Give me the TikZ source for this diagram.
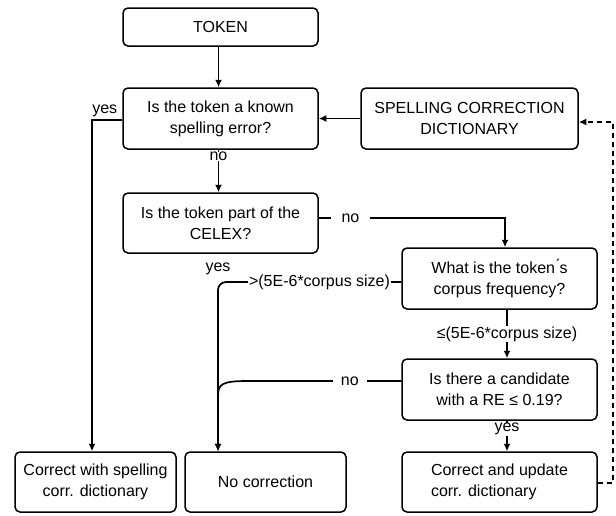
\documentclass[tikz,border=0pt]{standalone}
\usepackage{fontspec}
\setmainfont{Liberation Sans}
\usetikzlibrary{arrows.meta}
\begin{document}
\begin{tikzpicture}[x=1pt,y=-1pt,
  font=\fontsize{16}{21}\selectfont,
  box/.style={draw, rounded corners=5pt, line width=1.5pt, align=center, inner sep=0pt},
  lbl/.style={fill=white, inner xsep=3pt, inner ysep=0.5pt},
  arr/.style={-{Latex[length=7.5pt,width=7pt]}, line width=1.7pt},
  dsh/.style={dash pattern=on 5pt off 4pt}]
\useasboundingbox (0,0) rectangle (616,515);
\node[box, minimum width=195, minimum height=38] (token) at (220.5,27) {TOKEN};
\node[box, minimum width=195, minimum height=61] (q1) at (220.5,118.5) {Is the token a known\\spelling error?};
\node[box, minimum width=217, minimum height=61] (scd) at (469.5,118.5) {SPELLING CORRECTION\\DICTIONARY};
\node[box, minimum width=195, minimum height=60] (q2) at (220.5,223) {Is the token part of the\\CELEX?};
\node[box, minimum width=195, minimum height=61] (q3) at (499.5,278.5) {What is the token\'{}s\\corpus frequency?};
\node[box, minimum width=195, minimum height=61] (q4) at (499.5,389.5) {Is there a candidate\\with a RE ≤ 0.19?};
\node[box, minimum width=161, minimum height=60] (b1) at (95.5,482) {Correct with spelling\\corr. dictionary};
\node[box, minimum width=161, minimum height=60] (b2) at (265.5,482) {No correction};
\node[box, minimum width=195, minimum height=60, align=left] (b3) at (499.5,482) {Correct and update\\corr. dictionary};
\coordinate (dr) at (613,483);

\draw[arr] ([xshift=-2pt]token.south) -- ([xshift=-2pt]q1.north);
\draw[arr] (scd.west) -- (q1.east);
\draw[arr] ([xshift=-2pt]q1.south) -- node[lbl, pos=0.16] {no} ([xshift=-2pt]q2.north);
\draw[arr] ([yshift=-1.5pt]q1.west) -| node[pos=0.29, anchor=south, inner sep=2pt] {yes} ([xshift=-3.5pt]b1.north);
\draw[arr] ([yshift=5pt]q2.east) -| node[lbl, pos=0.085, inner xsep=11pt] {no} ([xshift=5.5pt]q3.north);
\node[lbl] (yq2) at ([xshift=-2.5pt,yshift=-15pt]q2.south) {yes};
\draw[arr, rounded corners=8pt] ([yshift=-3.5pt]q3.west) -- node[lbl, pos=0.446, inner xsep=1pt] {>(5E-6*corpus size)} (218,282) -- ([xshift=-47.5pt]b2.north);
\draw[arr] ([xshift=7.5pt]q3.south) -- node[lbl, pos=0.5] {≤(5E-6*corpus size)} ([xshift=7.5pt]q4.north);
\draw[arr] ([yshift=8.5pt]q4.west) -- node[lbl, pos=0.336, inner xsep=8pt] {no} (248,381) .. controls (222,381) and (218,384) .. (218,396) -- ([xshift=-47.5pt]b2.north);
\draw[arr] ([xshift=7.5pt]q4.south) -- node[lbl, pos=0.28] {yes} ([xshift=7.5pt]b3.north);
\draw[arr, dsh] ([yshift=-1pt]b3.east) -- (dr) |- ([yshift=-3.5pt]scd.east);
\end{tikzpicture}
\end{document}
